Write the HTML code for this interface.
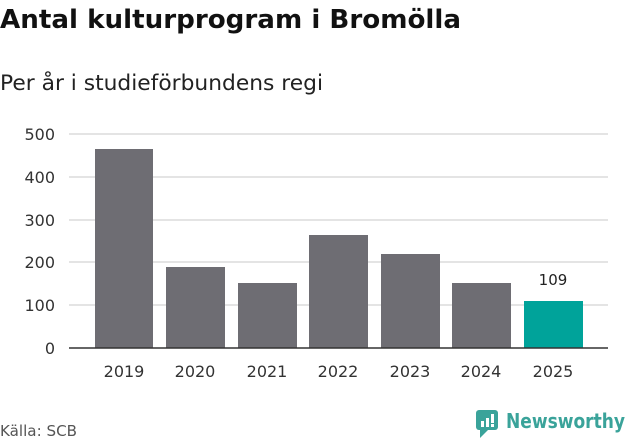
<!DOCTYPE html>
<html><head><meta charset="utf-8"><style>
body{margin:0;background:#fff;font-family:"DejaVu Sans","Liberation Sans",sans-serif;}
</style></head><body>
<svg width="631" height="439" viewBox="0 0 631 439" xmlns="http://www.w3.org/2000/svg" font-family="DejaVu Sans, Liberation Sans, sans-serif">
<rect width="631" height="439" fill="#fff"/>
<text x="0" y="28" font-size="26" font-weight="bold" fill="#111" textLength="461" lengthAdjust="spacingAndGlyphs">Antal kulturprogram i Bromölla</text>
<text x="0" y="90" font-size="21" fill="#222" textLength="323" lengthAdjust="spacingAndGlyphs">Per år i studieförbundens regi</text>
<g stroke="#dcdcdc" stroke-width="1.5">
<line x1="69" x2="608" y1="134" y2="134"/>
<line x1="69" x2="608" y1="177" y2="177"/>
<line x1="69" x2="608" y1="220" y2="220"/>
<line x1="69" x2="608" y1="262" y2="262"/>
<line x1="69" x2="608" y1="305" y2="305"/>
</g>
<g font-size="16" fill="#333" text-anchor="end">
<text x="55" y="140">500</text>
<text x="55" y="183">400</text>
<text x="55" y="226">300</text>
<text x="55" y="268">200</text>
<text x="55" y="311">100</text>
<text x="55" y="354">0</text>
</g>
<g fill="#6e6d73">
<rect x="95" y="149" width="58" height="199"/>
<rect x="166" y="267" width="59" height="81"/>
<rect x="238" y="283" width="59" height="65"/>
<rect x="309" y="235" width="59" height="113"/>
<rect x="381" y="254" width="59" height="94"/>
<rect x="452" y="283" width="59" height="65"/>
</g>
<rect x="524" y="301" width="59" height="47" fill="#00a39a"/>
<line x1="69" x2="608" y1="348" y2="348" stroke="#333" stroke-width="1.5"/>
<text x="553" y="285" font-size="15" fill="#222" text-anchor="middle">109</text>
<g font-size="16" fill="#333" text-anchor="middle">
<text x="124" y="377">2019</text>
<text x="195" y="377">2020</text>
<text x="267" y="377">2021</text>
<text x="338" y="377">2022</text>
<text x="410" y="377">2023</text>
<text x="481" y="377">2024</text>
<text x="553" y="377">2025</text>
</g>
<text x="0" y="436" font-size="15" fill="#555" textLength="77" lengthAdjust="spacingAndGlyphs">Källa: SCB</text>
<g transform="translate(476,410)">
<rect x="0" y="0" width="22" height="20" rx="3" fill="#3aa39a"/>
<path d="M4 20 L4 28 L12 20 Z" fill="#3aa39a"/>
<rect x="5" y="11" width="3" height="6" fill="#fff"/>
<rect x="10" y="8" width="3" height="9" fill="#fff"/>
<rect x="15" y="4" width="3" height="9" fill="#fff"/>
<rect x="15" y="14" width="3" height="3" fill="#fff"/>
</g>
<text x="506" y="428" font-size="20" font-weight="bold" fill="#3aa39a" textLength="119" lengthAdjust="spacingAndGlyphs">Newsworthy</text>
</svg>
</body></html>
